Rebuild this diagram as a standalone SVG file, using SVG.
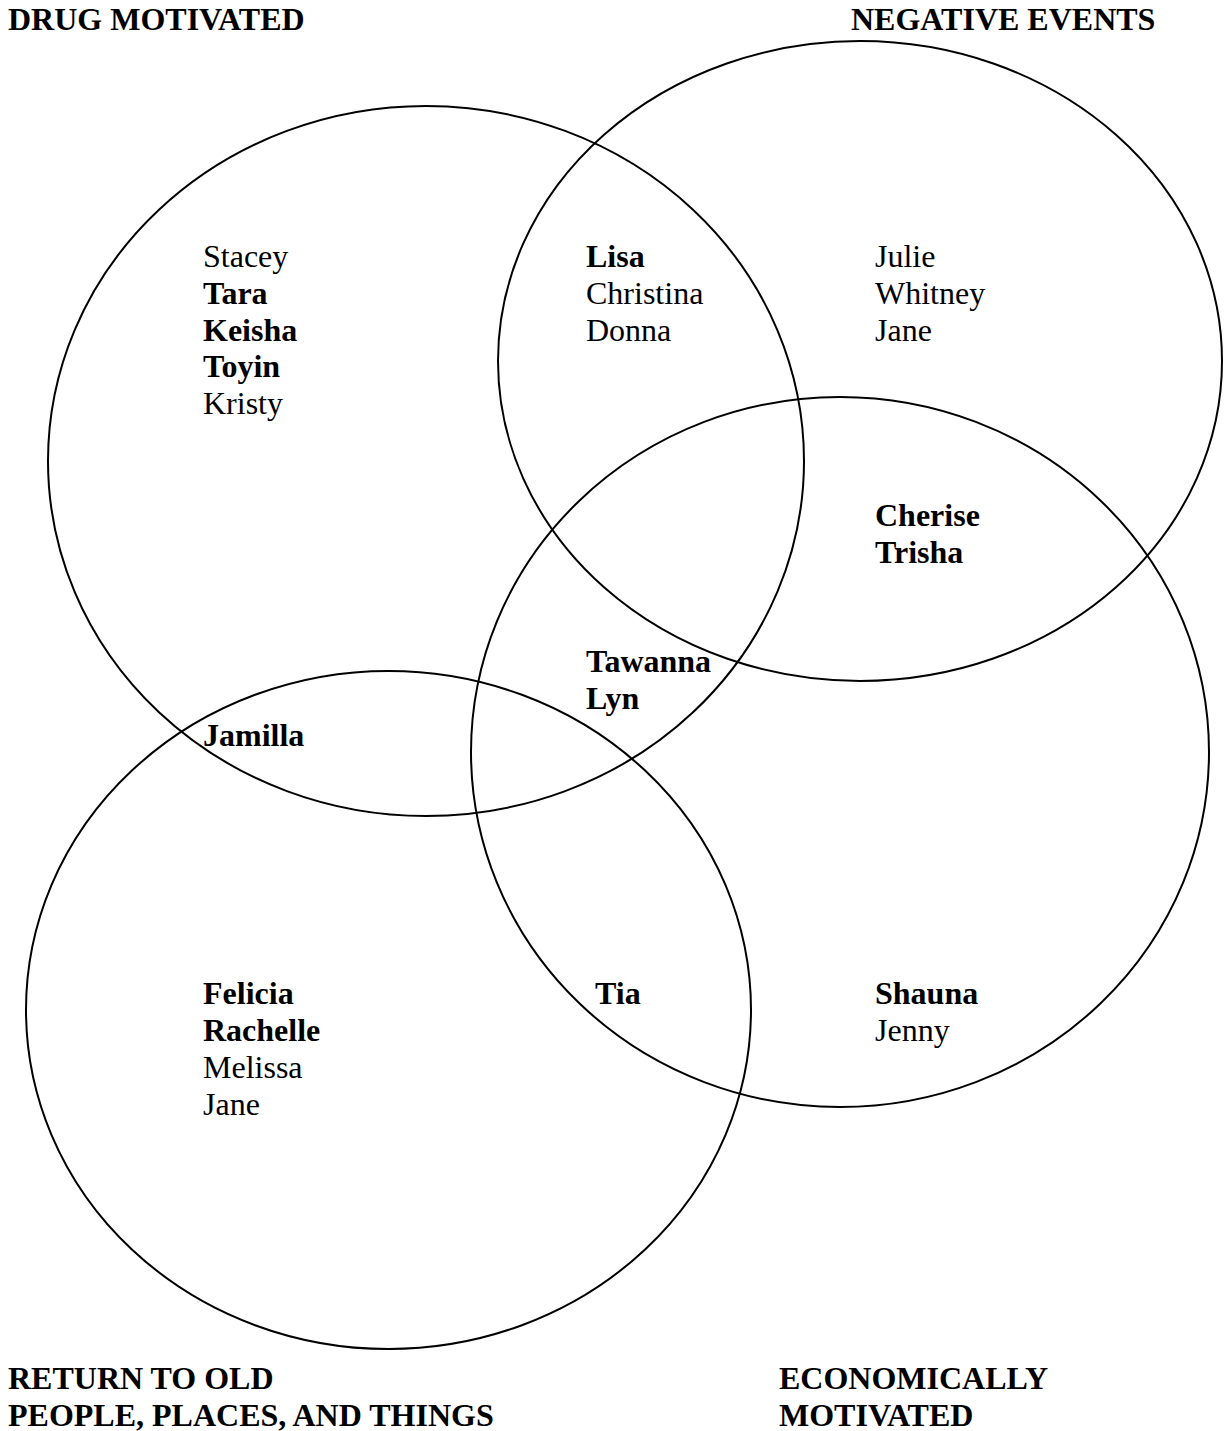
<svg xmlns="http://www.w3.org/2000/svg" width="1227" height="1431" viewBox="0 0 1227 1431">
<style>
.c{fill:none;stroke:#000;stroke-width:2}
text{font-family:"Liberation Serif","Times New Roman",serif;font-size:32px;fill:#000}
.b{font-weight:bold}
</style>
<rect width="1227" height="1431" fill="#fff"/>
<g id="connectors"></g>
<g id="set-drug">
<ellipse class="c" cx="426" cy="461" rx="378" ry="355"/>
<text class="b" x="8" y="30">DRUG MOTIVATED</text>
</g>
<g id="set-negative">
<ellipse class="c" cx="860" cy="361" rx="362" ry="320"/>
<text class="b" x="851" y="30">NEGATIVE EVENTS</text>
</g>
<g id="set-economic">
<ellipse class="c" cx="840" cy="752" rx="369" ry="355"/>
<text class="b" x="779" y="1389">ECONOMICALLY</text>
<text class="b" x="779" y="1426">MOTIVATED</text>
</g>
<g id="set-return">
<ellipse class="c" cx="388.5" cy="1010" rx="362.5" ry="339"/>
<text class="b" x="8" y="1389">RETURN TO OLD</text>
<text class="b" x="8" y="1426">PEOPLE, PLACES, AND THINGS</text>
</g>
<g id="names-drug">
<text x="203" y="267">Stacey</text>
<text class="b" x="203" y="304">Tara</text>
<text class="b" x="203" y="341">Keisha</text>
<text class="b" x="203" y="377">Toyin</text>
<text x="203" y="414">Kristy</text>
</g>
<g id="names-drug-negative">
<text class="b" x="586" y="267">Lisa</text>
<text x="586" y="304">Christina</text>
<text x="586" y="341">Donna</text>
</g>
<g id="names-negative">
<text x="875" y="267">Julie</text>
<text x="875" y="304">Whitney</text>
<text x="875" y="341">Jane</text>
</g>
<g id="names-negative-economic">
<text class="b" x="875" y="526">Cherise</text>
<text class="b" x="875" y="563">Trisha</text>
</g>
<g id="names-drug-economic">
<text class="b" x="586" y="672">Tawanna</text>
<text class="b" x="586" y="709">Lyn</text>
</g>
<g id="names-drug-return">
<text class="b" x="203" y="746">Jamilla</text>
</g>
<g id="names-return">
<text class="b" x="203" y="1004">Felicia</text>
<text class="b" x="203" y="1041">Rachelle</text>
<text x="203" y="1078">Melissa</text>
<text x="203" y="1115">Jane</text>
</g>
<g id="names-return-economic">
<text class="b" x="595" y="1004">Tia</text>
</g>
<g id="names-economic">
<text class="b" x="875" y="1004">Shauna</text>
<text x="875" y="1041">Jenny</text>
</g>
</svg>
